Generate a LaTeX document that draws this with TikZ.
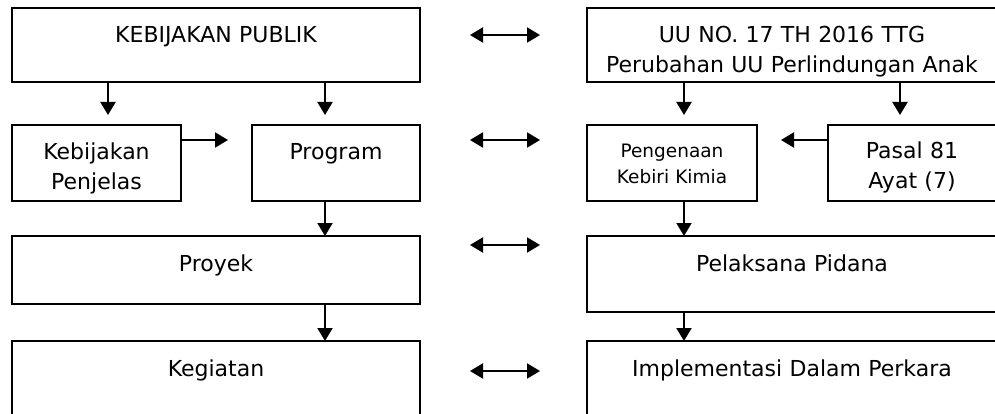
\documentclass[tikz,border=0pt]{standalone}
\usepackage{fontspec}
\setmainfont{DejaVu Sans}
\usetikzlibrary{arrows.meta}
\tikzset{
    every node/.style = {inner sep=0pt, outer sep=0pt, align=center},
    blok/.style = {draw, line width=1.4pt, anchor=north west, text height=35pt,
                   font=\fontsize{22}{30}\selectfont},
    panah/.style = {line width=2pt, -{Triangle[width=15pt,length=13pt]}},
    panahdua/.style = {line width=2pt, {Triangle[width=15pt,length=13pt]}-{Triangle[width=15pt,length=13pt]},
                       shorten <=50pt, shorten >=47pt}
}
\begin{document}
\begin{tikzpicture}[x=1pt, y=-1pt]
        \useasboundingbox (0,0) rectangle (995,414);
        \clip (0,0) rectangle (995,414);

        \node[blok, text width=408pt, text depth=39pt] (kp) at (12,8) {KEBIJAKAN PUBLIK};
        \node[blok, text width=169pt, text depth=41pt] (penjelas) at (12,125) {Kebijakan\\Penjelas};
        \node[blok, text width=168pt, text depth=41pt] (program) at (252,125) {Program};
        \node[blok, text width=408pt, text depth=33pt] (proyek) at (12,236) {Proyek};
        \node[blok, text width=408pt, text depth=100pt] (kegiatan) at (12,341) {Kegiatan};

        \node[blok, text width=410pt, text depth=39pt] (uu) at (587,8) {UU NO. 17 TH 2016 TTG\\Perubahan UU Perlindungan Anak};
        \node[blok, text width=170pt, text height=33pt, text depth=43pt,
              font=\fontsize{18.5}{25}\selectfont] (kebiri) at (587,125) {Pengenaan\\Kebiri Kimia};
        \node[blok, text width=168pt, text height=34pt, text depth=42pt] (pasal) at (828,125) {Pasal 81\\Ayat (7)};
        \node[blok, text width=410pt, text depth=41pt] (pidana) at (587,236) {Pelaksana Pidana};
        \node[blok, text width=410pt, text depth=100pt] (perkara) at (587,341) {Implementasi Dalam Perkara};

        \draw[panah, shorten >=10pt] (kp.south -| 108,0) -- (penjelas.north -| 108,0);
        \draw[panah, shorten >=10pt] (kp.south -| 325,0) -- (program.north -| 325,0);
        \draw[panah, shorten >=24pt] (penjelas.east |- 0,140) -- (program.west |- 0,140);
        \draw[panah] (program.south -| 325,0) -- (proyek.north -| 325,0);
        \draw[panah] (proyek.south -| 325,0) -- (kegiatan.north -| 325,0);

        \draw[panah, shorten >=10pt] (uu.south -| 684,0) -- (kebiri.north -| 684,0);
        \draw[panah, shorten >=10pt] (uu.south -| 900,0) -- (pasal.north -| 900,0);
        \draw[panah, shorten >=24pt] (pasal.west |- 0,140) -- (kebiri.east |- 0,140);
        \draw[panah] (kebiri.south -| 684,0) -- (pidana.north -| 684,0);
        \draw[panah] (pidana.south -| 684,0) -- (perkara.north -| 684,0);

        \draw[panahdua] (kp.east |- 0,35) -- (uu.west |- 0,35);
        \draw[panahdua] (program.east |- 0,140) -- (kebiri.west |- 0,140);
        \draw[panahdua] (proyek.east |- 0,245) -- (pidana.west |- 0,245);
        \draw[panahdua] (kegiatan.east |- 0,371) -- (perkara.west |- 0,371);
\end{tikzpicture}
\end{document}
